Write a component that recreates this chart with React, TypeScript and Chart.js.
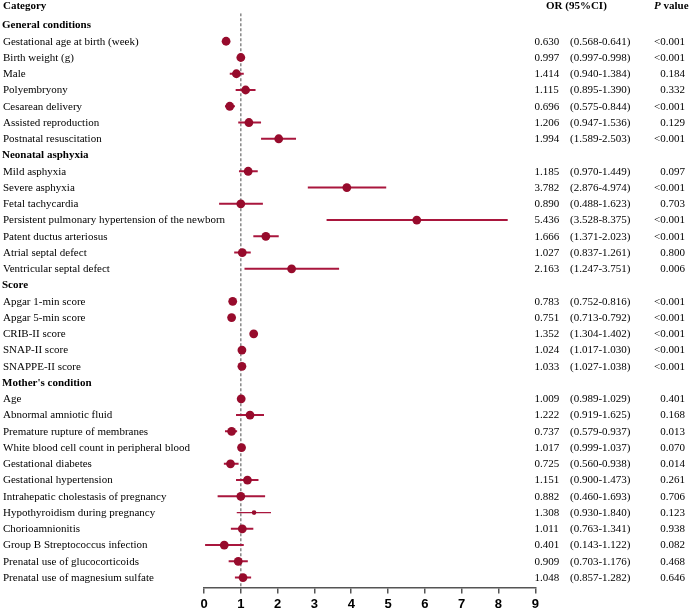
import { useEffect, useRef } from 'react';
import { Chart, registerables } from 'chart.js';

Chart.register(...registerables);

// Rows from "General conditions" (index 0) down to the last factor (index 34)
const rowLabels = [
  'General conditions',
  'Gestational age at birth (week)',
  'Birth weight (g)',
  'Male',
  'Polyembryony',
  'Cesarean delivery',
  'Assisted reproduction',
  'Postnatal resuscitation',
  'Neonatal asphyxia',
  'Mild asphyxia',
  'Severe asphyxia',
  'Fetal tachycardia',
  'Persistent pulmonary hypertension of the newborn',
  'Patent ductus arteriosus',
  'Atrial septal defect',
  'Ventricular septal defect',
  'Score',
  'Apgar 1-min score',
  'Apgar 5-min score',
  'CRIB-II score',
  'SNAP-II score',
  'SNAPPE-II score',
  "Mother's condition",
  'Age',
  'Abnormal amniotic fluid',
  'Premature rupture of membranes',
  'White blood cell count in peripheral blood',
  'Gestational diabetes',
  'Gestational hypertension',
  'Intrahepatic cholestasis of pregnancy',
  'Hypothyroidism during pregnancy',
  'Chorioamnionitis',
  'Group B Streptococcus infection',
  'Prenatal use of glucocorticoids',
  'Prenatal use of magnesium sulfate',
];

// Plotted odds ratios (as drawn), null for section headers
const orPlot = [
  null, 0.60, 1.00, 0.88, 1.13, 0.70, 1.22, 2.03,
  null, 1.20, 3.88, 1.00, 5.78, 1.68, 1.04, 2.38,
  null, 0.78, 0.75, 1.35, 1.03, 1.03,
  null, 1.01, 1.25, 0.75, 1.02, 0.72, 1.18, 1.00, 1.36, 1.04, 0.55, 0.93, 1.06,
];
const ciLow = [
  null, 0.568, 0.997, 0.70, 0.86, 0.57, 0.93, 1.55,
  null, 0.95, 2.82, 0.41, 3.33, 1.34, 0.82, 1.10,
  null, 0.752, 0.713, 1.304, 1.017, 1.027,
  null, 0.989, 0.87, 0.57, 0.999, 0.54, 0.87, 0.37, 0.89, 0.73, 0.03, 0.67, 0.84,
];
const ciHigh = [
  null, 0.641, 0.998, 1.08, 1.40, 0.84, 1.55, 2.50,
  null, 1.46, 4.95, 1.60, 8.25, 2.03, 1.27, 3.67,
  null, 0.816, 0.792, 1.402, 1.030, 1.038,
  null, 1.029, 1.63, 0.90, 1.037, 0.94, 1.48, 1.66, 1.82, 1.34, 1.08, 1.19, 1.28,
];

const orText = [
  '', '0.630', '0.997', '1.414', '1.115', '0.696', '1.206', '1.994',
  '', '1.185', '3.782', '0.890', '5.436', '1.666', '1.027', '2.163',
  '', '0.783', '0.751', '1.352', '1.024', '1.033',
  '', '1.009', '1.222', '0.737', '1.017', '0.725', '1.151', '0.882', '1.308', '1.011', '0.401', '0.909', '1.048',
];
const ciText = [
  '', '(0.568-0.641)', '(0.997-0.998)', '(0.940-1.384)', '(0.895-1.390)', '(0.575-0.844)', '(0.947-1.536)', '(1.589-2.503)',
  '', '(0.970-1.449)', '(2.876-4.974)', '(0.488-1.623)', '(3.528-8.375)', '(1.371-2.023)', '(0.837-1.261)', '(1.247-3.751)',
  '', '(0.752-0.816)', '(0.713-0.792)', '(1.304-1.402)', '(1.017-1.030)', '(1.027-1.038)',
  '', '(0.989-1.029)', '(0.919-1.625)', '(0.579-0.937)', '(0.999-1.037)', '(0.560-0.938)', '(0.900-1.473)', '(0.460-1.693)', '(0.930-1.840)', '(0.763-1.341)', '(0.143-1.122)', '(0.703-1.176)', '(0.857-1.282)',
];
const pText = [
  '', '<0.001', '<0.001', '0.184', '0.332', '<0.001', '0.129', '<0.001',
  '', '0.097', '<0.001', '0.703', '<0.001', '<0.001', '0.800', '0.006',
  '', '<0.001', '<0.001', '<0.001', '<0.001', '<0.001',
  '', '0.401', '0.168', '0.013', '0.070', '0.014', '0.261', '0.706', '0.123', '0.938', '0.082', '0.468', '0.646',
];

const xTicks = [0, 1, 2, 3, 4, 5, 6, 7, 8, 9];
const refValue = 1;
const smallMarkerRows = [30];

const DOT = '#970b2c';
const BAR = '#a9163d';
const SERIF = '"Liberation Serif", "Times New Roman", serif';

const Y_MIN = -0.72;
const Y_MAX = 34.61;

const tablePlugin = {
  id: 'tableText',
  afterDraw(chart: any) {
    const ctx = chart.ctx;
    const ys = chart.scales.y;
    ctx.save();
    ctx.fillStyle = '#000';
    ctx.textBaseline = 'middle';
    ctx.textAlign = 'left';
    const hy = ys.getPixelForValue(-1.15);
    ctx.font = `bold 11px ${SERIF}`;
    ctx.fillText('Category', 3, hy);
    ctx.fillText('OR (95%CI)', 546, hy);
    ctx.font = `italic bold 11px ${SERIF}`;
    ctx.fillText('P', 654, hy);
    const pw = ctx.measureText('P ').width;
    ctx.font = `bold 11px ${SERIF}`;
    ctx.fillText('value', 654 + pw, hy);

    rowLabels.forEach((label, i) => {
      const y = ys.getPixelForValue(i) + 0.5;
      const header = orPlot[i] === null;
      ctx.textAlign = 'left';
      ctx.font = header ? `bold 11px ${SERIF}` : `11px ${SERIF}`;
      ctx.fillText(label, header ? 2 : 3, y);
      if (!header) {
        ctx.font = `11px ${SERIF}`;
        ctx.fillText(orText[i], 534.5, y);
        ctx.fillText(ciText[i], 570, y);
        ctx.textAlign = 'right';
        ctx.fillText(pText[i], 685, y);
      }
    });
    ctx.restore();
  },
};

export default function App() {
  const ref = useRef<HTMLCanvasElement | null>(null);

  useEffect(() => {
    document.body.style.margin = '0';
    const canvas = ref.current;
    if (!canvas) return;

    const pointData: any[] = [];
    const radii: number[] = [];
    const ciSets: any[] = [];
    orPlot.forEach((v, i) => {
      if (v === null) return;
      pointData.push({ x: v, y: i });
      radii.push(smallMarkerRows.includes(i) ? 2.3 : 4.4);
      ciSets.push({
        data: [
          { x: ciLow[i], y: i },
          { x: ciHigh[i], y: i },
        ],
        showLine: true,
        borderColor: BAR,
        borderWidth: smallMarkerRows.includes(i) ? 1.3 : 2,
        pointRadius: 0,
        pointHoverRadius: 0,
      });
    });

    const chart = new Chart(canvas, {
      type: 'scatter',
      data: {
        datasets: [
          {
            data: pointData,
            pointRadius: radii,
            pointHoverRadius: radii,
            pointBackgroundColor: DOT,
            pointBorderWidth: 0,
            showLine: false,
          },
          ...ciSets,
          {
            data: [
              { x: refValue, y: Y_MIN },
              { x: refValue, y: Y_MAX },
            ],
            showLine: true,
            borderColor: '#7f7f7f',
            borderWidth: 1.4,
            borderDash: [3, 2],
            pointRadius: 0,
            pointHoverRadius: 0,
          },
        ],
      },
      options: {
        responsive: false,
        animation: false,
        events: [],
        layout: { padding: { left: 204, right: 158.7, top: 13.3, bottom: 0 } },
        plugins: { legend: { display: false }, tooltip: { enabled: false } },
        scales: {
          x: {
            type: 'linear',
            min: xTicks[0],
            max: xTicks[xTicks.length - 1],
            afterBuildTicks: (s: any) => {
              s.ticks = xTicks.map((v) => ({ value: v }));
            },
            afterFit: (s: any) => {
              s.height = 23.5;
            },
            grid: {
              drawOnChartArea: false,
              drawTicks: true,
              tickLength: 6,
              color: '#555',
              lineWidth: 1.5,
            },
            border: { display: true, color: '#555', width: 1.5 },
            ticks: {
              padding: 3,
              color: '#000',
              font: { family: '"Liberation Sans", Arial, sans-serif', size: 13, weight: 'bold' },
              maxRotation: 0,
            },
          },
          y: {
            type: 'linear',
            display: false,
            reverse: true,
            min: Y_MIN,
            max: Y_MAX,
          },
        },
      },
      plugins: [tablePlugin],
    });

    return () => chart.destroy();
  }, []);

  return (
    <div style={{ width: 694, height: 611 }}>
      <canvas ref={ref} width={694} height={611} style={{ display: 'block' }} />
    </div>
  );
}
